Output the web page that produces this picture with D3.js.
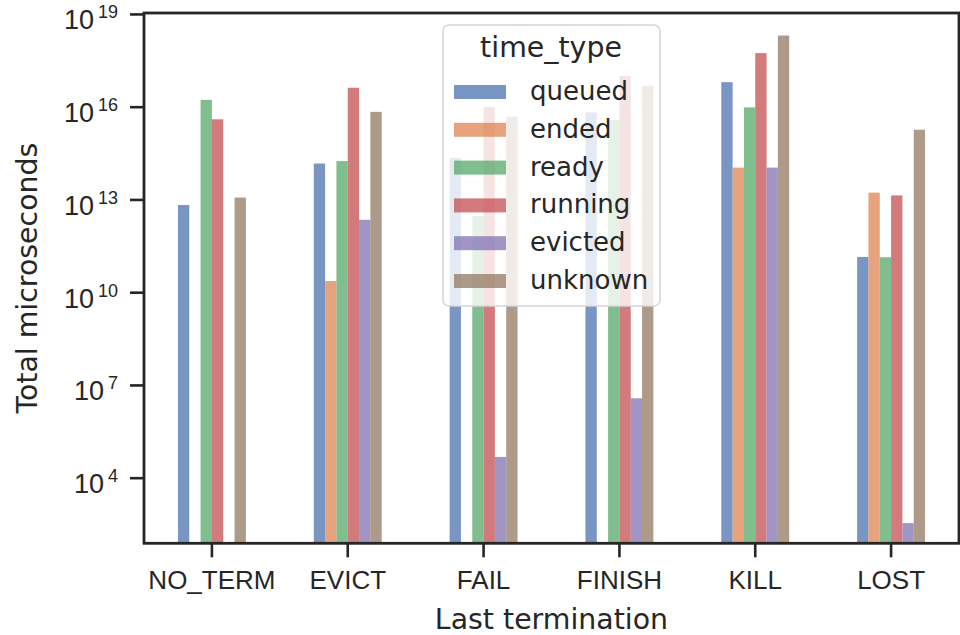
<!DOCTYPE html>
<html>
<head>
<meta charset="utf-8">
<script src="https://cdn.jsdelivr.net/npm/d3@7"></script>
<style>
  html, body { margin: 0; padding: 0; background: #ffffff; }
  svg { display: block; font-family: "DejaVu Sans", sans-serif; }
</style>
</head>
<body>
<svg id="chart" width="960" height="635"></svg>
<script>
// Last termination categories on the x axis
const categories = ["NO_TERM", "EVICT", "FAIL", "FINISH", "KILL", "LOST"];
// time_type hue levels
const timeTypes = ["queued", "ended", "ready", "running", "evicted", "unknown"];
// Total microseconds per category, one array per time_type (null = no bar)
const queued  = [6.6e12, 1.45e14, 2.2e14, 6.5e15, 6.2e16, 1.38e11];
const ended   = [null,   2.3e10,  null,   null,   1.07e14, 1.66e13];
const ready   = [1.66e16, 1.74e14, 2.9e12, 3.7e15, 9.5e15, 1.35e11];
const running = [3.9e15, 4.1e16, 9.8e15, 9.8e16, 5.4e17, 1.35e13];
const evicted = [null,   2.2e12,  4.7e4,  3.7e6,  1.07e14, 340];
const unknown = [1.15e13, 6.8e15, 4.7e15, 4.7e16, 2.0e18, 1.8e15];
// Log-axis tick exponents
const tickExponents = [4, 7, 10, 13, 16, 19];

const seriesValues = { queued, ended, ready, running, evicted, unknown };
const palette = ["#4c72b0", "#dd8452", "#55a868", "#c44e52", "#8172b3", "#937860"];

const svg = d3.select("#chart");
const W = 960, H = 635;
const plot = { left: 144, right: 959, top: 13, bottom: 543.3 };
const ink = "#262626";

svg.append("rect").attr("width", W).attr("height", H).attr("fill", "#ffffff");

const x = d3.scaleBand().domain(categories).range([plot.left, plot.right]);
const groupWidth = x.bandwidth() * 0.5;
const xInner = d3.scaleBand().domain(timeTypes)
  .range([0, groupWidth]);
const y = d3.scaleLog()
  .domain([Math.pow(10, 1.878), Math.pow(10, 19.03)])
  .range([plot.bottom, plot.top]);
const color = d3.scaleOrdinal().domain(timeTypes).range(palette);

// Bars
const barLayer = svg.append("g");
timeTypes.forEach(tt => {
  const vals = seriesValues[tt];
  barLayer.selectAll(null)
    .data(categories.map((c, i) => ({ c, v: vals[i] })).filter(d => d.v != null))
    .enter().append("rect")
    .attr("x", d => x(d.c) + x.bandwidth() / 2 - groupWidth / 2 + xInner(tt))
    .attr("width", xInner.bandwidth())
    .attr("y", d => y(d.v))
    .attr("height", d => plot.bottom - y(d.v))
    .attr("fill", color(tt))
    .attr("fill-opacity", 0.75);
});

// Y axis with power-of-ten labels
const yAxis = d3.axisLeft(y)
  .tickValues(tickExponents.map(e => Math.pow(10, e)))
  .tickSize(14).tickPadding(12)
  .tickFormat("");
const gy = svg.append("g").attr("transform", `translate(${plot.left},0)`).call(yAxis);
gy.select(".domain").remove();
gy.selectAll(".tick line").attr("stroke", ink).attr("stroke-width", 2.6);
gy.selectAll(".tick text").each(function(d, i) {
  const t = d3.select(this)
    .attr("fill", ink).attr("dy", null).attr("y", 15)
    .attr("text-anchor", "end");
  t.append("tspan").attr("font-size", 27).text("10");
  t.append("tspan").attr("font-size", 18).attr("dx", 4).attr("dy", -11)
    .text(String(tickExponents[i]));
});

// X axis
const xAxis = d3.axisBottom(x).tickSize(14).tickPadding(13);
const gx = svg.append("g").attr("transform", `translate(0,${plot.bottom})`).call(xAxis);
gx.select(".domain").remove();
gx.selectAll(".tick line").attr("stroke", ink).attr("stroke-width", 2.6);
gx.selectAll(".tick text").attr("fill", ink).attr("font-size", 26);

// Frame
svg.append("rect")
  .attr("x", plot.left).attr("y", plot.top)
  .attr("width", plot.right - plot.left).attr("height", plot.bottom - plot.top)
  .attr("fill", "none").attr("stroke", ink).attr("stroke-width", 2.8);

// Axis labels
svg.append("text")
  .attr("x", (plot.left + plot.right) / 2).attr("y", 629)
  .attr("text-anchor", "middle").attr("font-size", 28.4).attr("fill", ink)
  .text("Last termination");
svg.append("text")
  .attr("transform", `translate(37,${(plot.top + plot.bottom) / 2}) rotate(-90)`)
  .attr("text-anchor", "middle").attr("font-size", 28.4).attr("fill", ink)
  .text("Total microseconds");

// Legend
const legend = svg.append("g");
legend.append("rect")
  .attr("x", 443).attr("y", 25).attr("width", 217).attr("height", 281)
  .attr("rx", 6).attr("fill", "#ffffff").attr("fill-opacity", 0.8)
  .attr("stroke", "#d6d6d6").attr("stroke-width", 1.6);
legend.append("text")
  .attr("x", 551).attr("y", 57).attr("text-anchor", "middle")
  .attr("font-size", 28.4).attr("fill", ink).text("time_type");
const rowY = d3.scalePoint().domain(timeTypes).range([92, 281]);
timeTypes.forEach(tt => {
  legend.append("rect")
    .attr("x", 454).attr("y", rowY(tt) - 7).attr("width", 52).attr("height", 14)
    .attr("fill", color(tt)).attr("fill-opacity", 0.75);
  legend.append("text")
    .attr("x", 530).attr("y", rowY(tt) + 8)
    .attr("font-size", 26).attr("fill", ink).text(tt);
});
</script>
</body>
</html>
